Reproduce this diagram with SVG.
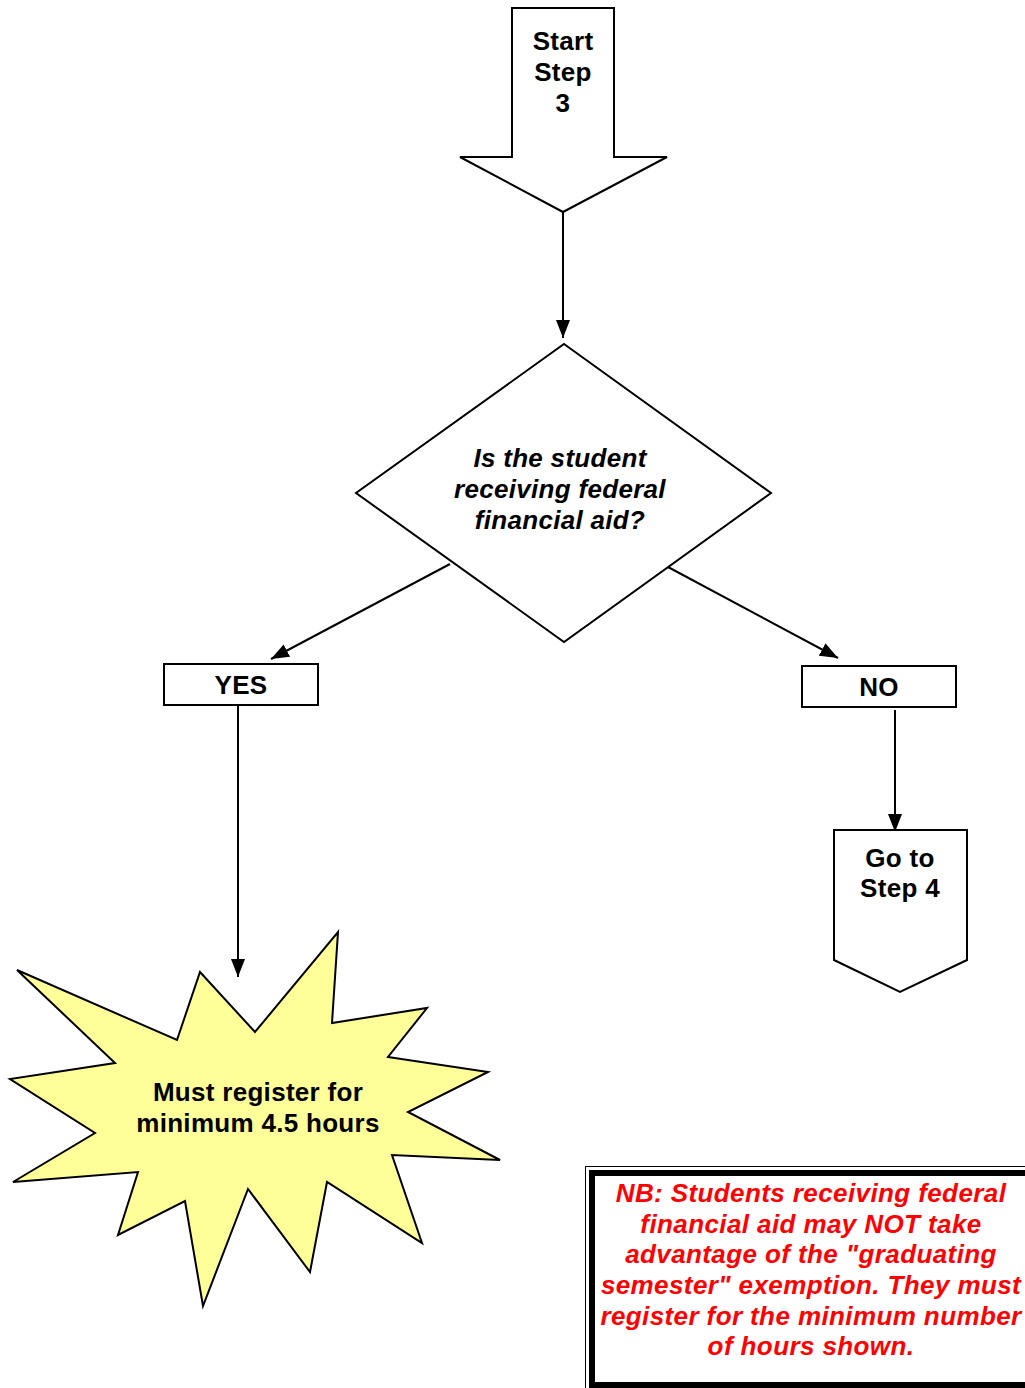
<svg xmlns="http://www.w3.org/2000/svg" width="1025" height="1388" viewBox="0 0 1025 1388">
<style>
.s{fill:#fff;stroke:#000;stroke-width:2}
.t{font-family:"Liberation Sans",Arial,sans-serif;font-weight:bold;font-size:26px;letter-spacing:0.3px;text-anchor:middle;fill:#000}
.i{font-style:italic}
.c{stroke:#000;stroke-width:2;fill:none}
.nb{font-family:"Liberation Sans",Arial,sans-serif;font-weight:bold;font-style:italic;font-size:26px;letter-spacing:0.4px;text-anchor:middle;fill:#ff0000}
</style>
<defs>
<marker id="ah2" markerWidth="18" markerHeight="14" refX="18" refY="7" orient="auto" markerUnits="userSpaceOnUse" viewBox="0 0 18 14">
<path d="M0,0 L18,7 L0,14 z" fill="#000"/>
</marker>
</defs>
<rect width="1025" height="1388" fill="#fff"/>
<g id="connectors">
<line class="c" x1="563" y1="212" x2="563" y2="338" marker-end="url(#ah2)"/>
<line class="c" x1="450" y1="564" x2="271" y2="659" marker-end="url(#ah2)"/>
<line class="c" x1="668" y1="567" x2="838" y2="658" marker-end="url(#ah2)"/>
<line class="c" x1="238" y1="706" x2="238" y2="977" marker-end="url(#ah2)"/>
<line class="c" x1="895" y1="710" x2="895" y2="832" marker-end="url(#ah2)"/>
</g>
<g id="start">
<path class="s" d="M512,8 H614 V157 H667 L563,212 L460,157 H512 Z"/>
<text class="t" x="563" y="50">Start</text>
<text class="t" x="563" y="81">Step</text>
<text class="t" x="563" y="112">3</text>
</g>
<g id="decision">
<path class="s" d="M564,344 L771,493 L564,642 L356,493 Z"/>
<text class="t i" x="560" y="467">Is the student</text>
<text class="t i" x="560" y="498">receiving federal</text>
<text class="t i" x="560" y="529">financial aid?</text>
</g>
<g id="yes">
<rect class="s" x="164" y="664" width="154" height="41"/>
<text class="t" x="241" y="694">YES</text>
</g>
<g id="no">
<rect class="s" x="802" y="666" width="154" height="41"/>
<text class="t" x="879" y="696">NO</text>
</g>
<g id="step4">
<path class="s" d="M834,830 H967 V960 L900,992 L834,960 Z"/>
<text class="t" x="900" y="867">Go to</text>
<text class="t" x="900" y="897">Step 4</text>
</g>
<g id="starburst">
<path fill="#ffff99" stroke="#000" stroke-width="2" d="M17,970 L177,1040 L200,972 L255,1032 L338,932 L332,1023 L427,1008 L388,1057 L488,1072 L408,1112 L500,1160 L392,1155 L422,1243 L327,1182 L310,1272 L248,1189 L203,1306 L185,1201 L118,1235 L138,1172 L13,1182 L95,1133 L10,1079 L115,1063 Z"/>
<text class="t" x="258" y="1101">Must register for</text>
<text class="t" x="258" y="1132">minimum 4.5 hours</text>
</g>
<g id="note">
<rect x="585.5" y="1166.5" width="445" height="230" fill="#fff" stroke="#000" stroke-width="1"/>
<rect x="592" y="1173" width="440" height="212" fill="#fff" stroke="#000" stroke-width="6"/>
<text class="nb" x="811" y="1202">NB: Students receiving federal</text>
<text class="nb" x="811" y="1233">financial aid may NOT take</text>
<text class="nb" x="811" y="1263">advantage of the "graduating</text>
<text class="nb" x="811" y="1294">semester" exemption. They must</text>
<text class="nb" x="811" y="1325">register for the minimum number</text>
<text class="nb" x="811" y="1355">of hours shown.</text>
</g>
</svg>
